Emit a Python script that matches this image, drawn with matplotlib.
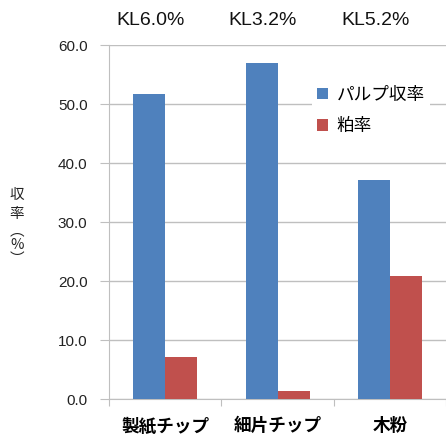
import numpy as np
import matplotlib
matplotlib.use('Agg')
import matplotlib.pyplot as plt

plt.rcParams['font.family'] = ['Liberation Sans', 'Noto Sans CJK JP', 'DejaVu Sans']

# データ
categories = ['製紙チップ', '細片チップ', '木粉']
pulp_yield = [51.7, 56.9, 37.1]
kasu_rate = [7.1, 1.4, 20.8]
kl_labels = ['KL6.0%', 'KL3.2%', 'KL5.2%']
series_names = ['パルプ収率', '粕率']
yticks = [0, 10, 20, 30, 40, 50, 60]
ylabel_chars = ['収', '率', '︵', '%', '︶']

blue = '#4F81BD'
red = '#C0504D'
grid_c = '#BFBFBF'

fig = plt.figure(figsize=(4.46, 4.43), dpi=100)
ax = fig.add_axes([0.2444, 0.0993, 0.756, 0.7991])

x = np.arange(len(categories))
w = 0.285
ax.bar(x - w / 2, pulp_yield, w, color=blue, label=series_names[0], zorder=3)
ax.bar(x + w / 2, kasu_rate, w, color=red, label=series_names[1], zorder=3)

ax.set_xlim(-0.5, len(categories) - 0.5)
ax.set_ylim(0, 60)
ax.set_yticks(yticks)
ax.set_yticklabels(['{:.1f}'.format(v) for v in yticks], fontsize=11, color='#222222')
ax.yaxis.grid(True, color=grid_c, linewidth=1, zorder=0)
ax.tick_params(axis='y', length=6.5, color=grid_c, pad=9)

# x軸: 目盛りはカテゴリ境界
ax.set_xticks(np.arange(-0.5, len(categories), 1.0))
ax.set_xticklabels([])
ax.set_xticks(x, minor=True)
ax.set_xticklabels(categories, minor=True, fontsize=12.7, fontweight='bold',
                   family=['Noto Sans CJK JP'])
ax.tick_params(axis='x', which='major', length=5, color=grid_c, direction='out')
ax.tick_params(axis='x', which='minor', length=0, pad=13)

for s in ['top', 'right']:
    ax.spines[s].set_visible(False)
ax.spines['left'].set_color(grid_c)
ax.spines['bottom'].set_color(grid_c)

# KLラベル
for i, t in enumerate(kl_labels):
    ax.text(i - 0.13, 1.068, t, transform=ax.get_xaxis_transform(),
            ha='center', va='center', fontsize=14, color='#111111')

# 縦書きの軸ラベル
ylab_y = [0.560, 0.517, 0.479, 0.447, 0.415]
for ch, yy in zip(ylabel_chars, ylab_y):
    fig.text(0.038, yy, ch, ha='center', va='center', fontsize=10.5,
             family=['Noto Sans CJK JP'], color='#222222')

leg = ax.legend(loc='upper left', bbox_to_anchor=(0.575, 0.925), frameon=True,
                handlelength=0.65, handleheight=0.65, handletextpad=0.45,
                labelspacing=0.75, borderpad=0.3,
                prop={'family': ['Noto Sans CJK JP'], 'size': 12.7})
leg.get_frame().set_edgecolor('none')
leg.get_frame().set_facecolor('white')
leg.get_frame().set_alpha(1)

fig.savefig('out.png', dpi=100)
